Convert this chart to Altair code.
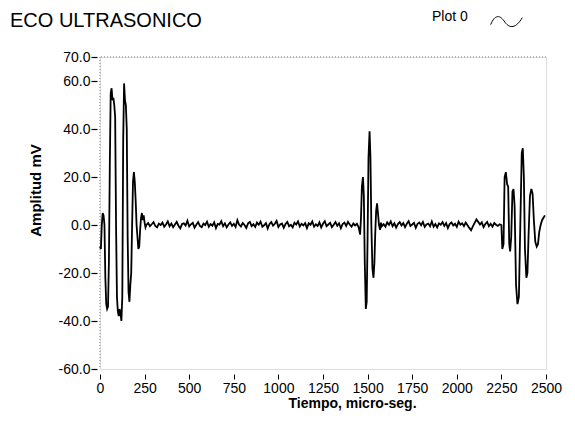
import altair as alt
import pandas as pd

# ---- data ----
burst1_t = [0, 5, 10, 15, 20, 25, 30, 35, 40, 45, 50, 55, 60, 65, 70, 75, 80, 85, 90, 95,
            100, 105, 110, 115, 120, 125, 130, 135, 140, 145, 150, 155, 160, 165, 170, 175,
            180, 185, 190, 195, 200, 205, 210, 215, 220, 225, 230, 235, 240, 245, 250, 255, 260]
burst1_v = [-9, -10, 0, 5, 4, 0, -22, -33, -35, -34, -15, 25, 55, 57, 52, 53, 50, 45, 0, -30,
            -36, -38, -35, -37, -40, -30, 35, 59, 52, 50, 40, -5, -28, -32, -25, -20,
            0, 18, 22, 18, 10, 0, -5, -10, -9, -2, 3, 5, 2, 4, 1, -1, 0]

noise1_v = [0.8, -0.5, 0.3, 1.2, -0.4, -1.0, 0.6, 0.0, 1.0, -0.7,
            0.2, 1.5, -0.5, 0.6, -0.9, 0.2, 1.3, -0.3, -1.4, 0.4,
            0.7, -0.2, 1.8, -0.6, 0.3, 0.9, -1.1, 0.1, 1.2, -0.4,
            -0.9, 0.6, 0.0, 1.4, -0.7, 0.4, -0.3, 1.1, -1.3, 0.5,
            0.2, 1.6, -0.5, 0.7, -1.0, 0.2, 1.1, -0.4, 0.5, -0.8,
            2.0, 0.1, -0.6, 0.8, 0.0, -1.2, 0.7, 1.3, -0.5, 0.3,
            -0.8, 1.0, 0.1, 1.4, -0.7, -0.1, 0.8, -1.5, 0.4, 1.2,
            -0.3, 0.5, 1.7, -0.8, 0.2, 0.6, -1.2, 0.4, 1.3, -0.5,
            0.1, -1.0, 1.0, 0.2, 1.5, -0.6, 0.5, -0.2, 0.8, -1.3,
            0.7, 0.1, 1.5, -0.7, 0.3, -0.4, 1.1, -1.0, 0.5, 1.6,
            -0.5, 0.2, 0.9, -0.9, 0.1, 1.2, -0.3, 0.7, -1.4, 0.4,
            1.0, -0.4, 1.3, 0.2, -0.7, 0.6, -0.2, 0.5]
noise1_t = list(range(270, 1450, 10))

burst2_t = [1450, 1458, 1463, 1468, 1474, 1479, 1484, 1490, 1495, 1500, 1505, 1511, 1516,
            1521, 1527, 1533, 1538, 1543, 1548, 1553, 1558, 1564, 1570, 1575, 1580]
burst2_v = [-1, -4, 3, 16, 20, 12, -15, -35, -32, -5, 28, 39, 28,
            0, -18, -22, -16, -3, 6, 9, 5, 0, -2, 1, -0.5]

noise2_v = [0.3, -0.7, 1.1, 0.1, 1.5, -0.5, 0.7, -1.1, 0.4, 1.2,
            -0.2, 0.8, -0.9, 0.5, 1.6, -0.4, 0.2, 0.9, -1.2, 0.5,
            1.0, -0.1, 1.3, -0.8, 0.2, 0.6, -0.5, 1.5, -0.7, 0.4,
            -1.0, 0.7, 0.1, 1.2, -0.4, 0.8, -1.3, 0.4, 1.1, -0.2,
            0.5, -0.8, 1.4, 0.1, 0.7, -0.5, 1.0, -0.1, -1.2, -2.2,
            -0.6, 0.9, 2.3, 1.3, 0.2, 1.1, -0.9, 0.4, 1.3, -0.5,
            0.5, -0.7, 0.8, 0.1, -0.4, 0.3]
noise2_t = list(range(1590, 2250, 10))

burst3_t = [2250, 2255, 2262, 2268, 2275, 2282, 2288, 2294, 2299, 2305, 2312, 2318, 2324,
            2332, 2340, 2348, 2356, 2364, 2370, 2376, 2382, 2390, 2396, 2402, 2410, 2418,
            2425, 2432, 2440, 2448, 2455, 2462, 2470, 2478, 2486, 2494]
burst3_v = [0, -10, -8, 20, 22, 17, 16, -8, -11, -5, 14, 15, 8,
            -25, -33, -30, 0, 30, 32, 20, -10, -22, -20, -5, 12, 15,
            13, 2, -7, -9, -8, -3, 0, 2, 3, 4]

x_ticks = [0, 250, 500, 750, 1000, 1250, 1500, 1750, 2000, 2250, 2500]
y_ticks = [70, 60, 40, 20, 0, -20, -40, -60]
series_name = "Plot 0"
chart_title = "ECO ULTRASONICO"

t_all = burst1_t + noise1_t + burst2_t + noise2_t + burst3_t
v_all = burst1_v + noise1_v + burst2_v + noise2_v + burst3_v
df = pd.DataFrame({"t": t_all, "v": v_all, "series": series_name})

FONT = "Liberation Sans"
wave_path = "M-1,0.2 C-0.75,-0.45 -0.4,-0.45 -0.1,0.05 C0.2,0.45 0.6,0.45 1,-0.25"

xscale = alt.Scale(domain=[0, 2500], nice=False, zero=False)
yscale = alt.Scale(domain=[-60, 70], nice=False, zero=False)

line = alt.Chart(df).mark_line(strokeWidth=1.8, interpolate="linear", color="black").encode(
    x=alt.X("t:Q", scale=xscale,
            axis=alt.Axis(values=x_ticks, format="d", title="Tiempo, micro-seg.", domain=False,
                          grid=False, labelOverlap=False, labelFlush=False,
                          tickSize=5, tickColor="black", offset=5, labelPadding=2,
                          labelFont=FONT, labelFontSize=14, labelColor="black",
                          titleFont=FONT, titleFontSize=14, titleFontWeight="bold",
                          titleColor="black", titlePadding=1, titleX=252)),
    y=alt.Y("v:Q", scale=yscale,
            axis=alt.Axis(values=y_ticks, title="Amplitud mV", domain=False, grid=False,
                          labelOverlap=False,
                          tickSize=6, tickColor="black", tickWidth=1.2, offset=3, labelPadding=1,
                          labelExpr="(datum.value < 0 ? '-' : '') + format(abs(datum.value), '.1f')",
                          labelFont=FONT, labelFontSize=14, labelColor="black",
                          titleFont=FONT, titleFontSize=15, titleFontWeight="bold",
                          titleColor="black", titleAngle=270, titleX=-62, titleY=133,
                          titleBaseline="middle", titleAlign="center")),
    color=alt.Color("series:N", scale=alt.Scale(range=["black"]),
                    legend=alt.Legend(title=series_name, titleOrient="left", orient="none",
                                      legendX=332, legendY=-52, labelExpr="''",
                                      symbolType=wave_path, symbolSize=1000,
                                      symbolStrokeWidth=1, symbolStrokeColor="black",
                                      titleFont=FONT, titleFontSize=14, titleFontWeight="normal",
                                      titleColor="black", titlePadding=22)),
)

top_rule = alt.Chart(df).mark_rule(color="#b5b5b5", strokeDash=[1, 2], strokeWidth=1).encode(
    y=alt.datum(70, scale=yscale))
left_rule = alt.Chart(df).mark_rule(color="#b5b5b5", strokeDash=[1, 2], strokeWidth=1).encode(
    x=alt.datum(0, scale=xscale))

title_df = pd.DataFrame({"label": [chart_title]})
title_text = alt.Chart(title_df).mark_text(
    font=FONT, fontSize=20, fontWeight="normal", color="black",
    align="left", baseline="alphabetic").encode(
    text="label:N", x=alt.value(-90), y=alt.value(-30))

chart = alt.layer(top_rule, left_rule, line, title_text).properties(
    width=446, height=312,
    autosize=alt.AutoSizeParams(type="none"),
    padding={"left": 92, "top": 49, "right": 21, "bottom": 45},
).configure_view(stroke=None).configure(background="white")

chart.save("out.html", embed_options={"renderer": "svg", "actions": False})
